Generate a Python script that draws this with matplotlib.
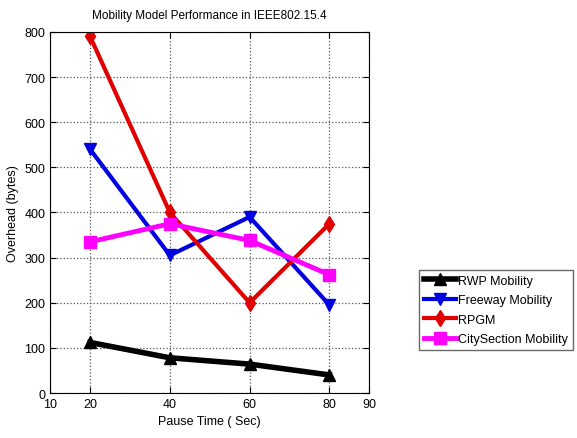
import matplotlib
matplotlib.use("Agg")
import matplotlib.pyplot as plt

plt.rcParams["font.family"] = ["Liberation Sans", "DejaVu Sans"]

PAUSE_TIME = [20, 40, 60, 80]
RWP = [112, 78, 64, 40]
FREEWAY = [540, 305, 390, 195]
RPGM = [790, 400, 200, 375]
CITY = [335, 375, 338, 262]

X_TICKS = [10, 20, 40, 60, 80, 90]
Y_TICKS = [0, 100, 200, 300, 400, 500, 600, 700, 800]

SERIES = [
    ("RWP Mobility", RWP, "black", "^", 4.0),
    ("Freeway Mobility", FREEWAY, "#0000e0", "v", 3.0),
    ("RPGM", RPGM, "#e00000", "d", 3.0),
    ("CitySection Mobility", CITY, "#ff00ff", "s", 3.5),
]

fig = plt.figure(figsize=(5.77, 4.39), dpi=100)
ax = fig.add_axes([0.087, 0.1025, 0.553, 0.8225])

for label, values, color, marker, lw in SERIES:
    ax.plot(PAUSE_TIME, values, color=color, marker=marker, linewidth=lw,
            markersize=8, label=label)

ax.set_xlim(10, 90)
ax.set_ylim(0, 800)
ax.set_xticks(X_TICKS)
ax.set_yticks(Y_TICKS)
ax.tick_params(direction="in", labelsize=9, length=4, top=True, right=True)
ax.grid(True, color="#555555", linestyle=":", linewidth=0.9)
ax.set_axisbelow(True)

ax.set_title("Mobility Model Performance in IEEE802.15.4", fontsize=8.5, pad=10)
ax.set_xlabel("Pause Time ( Sec)", fontsize=9)
ax.set_ylabel("Overhead (bytes)", fontsize=9)

leg = fig.legend(loc="upper left", bbox_to_anchor=(0.726, 0.383), fontsize=9,
                 frameon=True, fancybox=False, edgecolor="#444444",
                 handlelength=2.6, borderpad=0.4, labelspacing=0.6,
                 handletextpad=0.1, borderaxespad=0)
leg.get_frame().set_linewidth(1.0)

fig.savefig("out.png", dpi=100)
